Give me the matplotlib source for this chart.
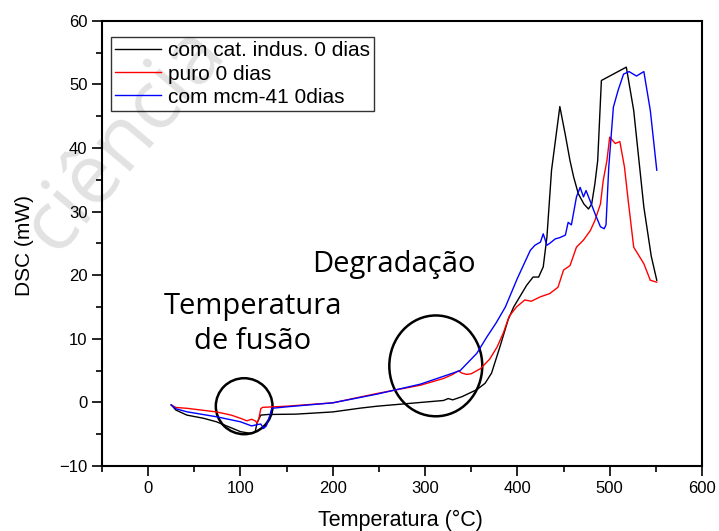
import matplotlib
matplotlib.use("Agg")
import matplotlib.pyplot as plt
from matplotlib.patches import Ellipse
from matplotlib.ticker import MultipleLocator

# ---- data ----
black_T = [25, 30, 42, 60, 74, 90, 100, 112, 116, 118, 122, 130, 160, 200, 230, 248, 280, 320, 325, 330,
           340, 356, 365, 372, 381, 390, 396, 410, 417, 423, 428, 432, 437, 446, 452, 457, 461, 466, 472,
           477, 480.5, 484, 487, 491, 518, 526, 537, 545, 551]
black_v = [-0.4, -1.2, -2.0, -2.5, -3.05, -4.0, -4.6, -4.9, -4.6, -3.2, -2.0, -1.9, -1.85, -1.5, -0.9, -0.6,
           -0.2, 0.3, 0.6, 0.4, 0.9, 2.0, 3.0, 4.6, 8.7, 13.0, 15.0, 18.4, 19.7, 19.7, 21.3, 26.0, 36.5, 46.5,
           42.0, 38.0, 35.4, 32.8, 31.2, 30.4, 31.2, 34.4, 38.0, 50.6, 52.7, 45.9, 30.7, 23.0, 19.2]

red_T = [25, 30, 42, 74, 90, 100, 107, 112, 116, 118, 120, 122, 124, 150, 200, 248, 295, 320, 330, 336,
         340, 345, 350, 360, 370, 378, 385, 391, 399, 408, 415, 425, 435, 444, 450, 457, 464, 471.5, 479,
         484, 490, 493, 497, 500, 506, 511, 516, 520, 526, 537, 544, 551]
red_v = [-0.4, -0.8, -0.93, -1.5, -2.0, -2.5, -2.9, -2.65, -2.9, -3.25, -2.5, -1.0, -0.78, -0.6, -0.07,
         1.4, 2.7, 3.76, 4.4, 4.96, 4.6, 4.4, 4.5, 5.3, 6.8, 8.7, 11.0, 13.5, 15.0, 16.1, 15.9, 16.6, 17.1,
         18.1, 20.8, 21.5, 24.4, 25.5, 27.0, 28.6, 31.2, 34.9, 38.0, 41.7, 40.7, 41.0, 37.0, 31.8, 24.4,
         21.8, 19.2, 18.9]

blue_T = [25, 30, 42, 74, 100, 112, 118, 122, 125, 128, 132, 134, 150, 200, 248, 295, 324, 338, 356, 367,
          377, 387, 400, 414, 419, 425, 428, 432, 435, 441, 446, 452, 455, 458.5, 464, 468, 471.6, 474.4,
          479, 484, 490, 494, 496, 499, 504, 509, 515, 521, 529, 537, 544, 551]
blue_v = [-0.4, -1.0, -1.48, -2.26, -3.05, -3.7, -3.5, -3.4, -4.1, -3.7, -2.0, -0.93, -0.7, -0.07, 1.3,
          2.87, 4.3, 5.0, 7.7, 10.3, 12.5, 15.0, 19.5, 23.9, 24.7, 25.2, 26.5, 24.7, 25.0, 25.7, 25.9, 26.3,
          28.3, 27.9, 32.3, 33.8, 32.3, 33.3, 31.6, 29.7, 27.6, 27.3, 27.9, 37.0, 46.4, 49.0, 51.6, 52.0,
          51.3, 52.0, 45.9, 36.5]

series_labels = ["com cat. indus. 0 dias", "puro 0 dias", "com mcm-41 0dias"]
x_label = "Temperatura (°C)"
y_label = "DSC (mW)"

# ---- figure ----
plt.rcParams['font.family'] = ['Liberation Sans', 'DejaVu Sans']
fig = plt.figure(figsize=(7.19, 5.31), dpi=100)
ax = fig.add_axes([102/719, 1 - 466/531, 600/719, (466 - 20.7)/531])

# faint watermark (behind the axes)
fig.text(125/719, 1 - 140/531, "ciência", fontsize=60, color='#e2e2e2', rotation=50,
         ha='center', va='center', family='Open Sans', zorder=-1)
ax.set_facecolor('none')

ax.plot(black_T, black_v, color='black', lw=1.0, label=series_labels[0])
ax.plot(red_T, red_v, color='red', lw=1.0, label=series_labels[1])
ax.plot(blue_T, blue_v, color='blue', lw=1.0, label=series_labels[2])

ax.add_patch(Ellipse((104, -0.6), 61.4, 8.8, fill=False, edgecolor='black', lw=1.8))
ax.add_patch(Ellipse((311.6, 5.74), 100.7, 15.85, fill=False, edgecolor='black', lw=1.8))

ax.text(113.1, 13.97, "Temperatura", fontsize=21, family='Open Sans', ha='center', va='baseline')
ax.text(113.1, 8.47, "de fusão", fontsize=21, family='Open Sans', ha='center', va='baseline')
ax.text(266.4, 20.5, "Degradação", fontsize=21, family='Open Sans', ha='center', va='baseline')

ax.set_xlim(-50, 600)
ax.set_ylim(-10, 60)
ax.xaxis.set_major_locator(MultipleLocator(100))
ax.xaxis.set_minor_locator(MultipleLocator(50))
ax.yaxis.set_major_locator(MultipleLocator(10))
ax.yaxis.set_minor_locator(MultipleLocator(5))
ax.tick_params(which='major', direction='out', length=7, width=1.2, labelsize=12, top=False, right=False)
ax.tick_params(which='minor', direction='out', length=4, width=1.2, top=False, right=False)
for s in ax.spines.values():
    s.set_linewidth(1.5)

ax.set_xlabel(x_label, fontsize=15.5)
ax.set_ylabel(y_label, fontsize=15)
ax.xaxis.set_label_coords(0.497, -0.098)
ax.yaxis.set_label_coords(-0.114, 0.496)

leg = ax.legend(loc='upper left', bbox_to_anchor=(0.015, 0.963), fontsize=15, frameon=True,
                fancybox=False, edgecolor='black', facecolor='none', framealpha=None,
                handlelength=2.2, borderpad=0.2, labelspacing=0.2, handletextpad=0.35,
                borderaxespad=0)
leg.get_frame().set_linewidth(1.0)

fig.savefig("out.png", dpi=100)
